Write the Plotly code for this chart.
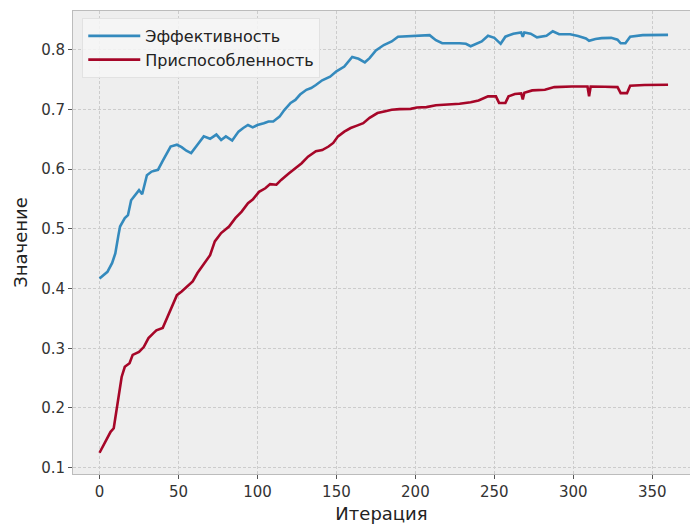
import plotly.graph_objects as go

# Data
eff_iter = [0, 2, 5, 8, 10, 12, 13, 16, 18, 20, 22, 25, 27, 30, 33, 37, 40, 43, 45, 49,
            52, 55, 58, 62, 66, 70, 74, 77, 80, 84, 88, 91, 94, 97, 100, 104, 107, 110,
            114, 117, 121, 124, 127, 131, 134, 137, 141, 146, 150, 155, 160, 164, 168,
            171, 175, 180, 185, 189, 197, 209, 213, 217, 228, 232, 235, 239, 242, 246,
            250, 254, 257, 262, 267, 268, 269, 273, 277, 283, 287, 291, 298, 303, 308,
            310, 314, 318, 324, 328, 330, 333, 336, 344, 352, 360]
efficiency = [0.417, 0.422, 0.428, 0.443, 0.459, 0.490, 0.504, 0.518, 0.523, 0.548, 0.555,
              0.565, 0.558, 0.590, 0.596, 0.599, 0.614, 0.630, 0.638, 0.641, 0.637, 0.631,
              0.627, 0.641, 0.655, 0.651, 0.658, 0.649, 0.655, 0.648, 0.663, 0.669, 0.674,
              0.670, 0.674, 0.677, 0.680, 0.680, 0.688, 0.699, 0.711, 0.716, 0.725, 0.733,
              0.736, 0.741, 0.749, 0.755, 0.764, 0.772, 0.788, 0.785, 0.779, 0.786, 0.799,
              0.808, 0.814, 0.822, 0.8235, 0.8246, 0.816, 0.811, 0.811, 0.810, 0.806, 0.810,
              0.814, 0.8235, 0.820, 0.810, 0.822, 0.827, 0.829, 0.822, 0.829, 0.827, 0.821,
              0.8235, 0.831, 0.826, 0.826, 0.823, 0.819, 0.815, 0.818, 0.8195, 0.820, 0.817,
              0.811, 0.811, 0.822, 0.8246, 0.825, 0.825]

fit_iter = [0, 4, 7, 9, 11, 14, 16, 19, 21, 25, 28, 31, 34, 36, 40, 43, 46, 49, 52, 55,
            59, 62, 66, 70, 73, 77, 82, 86, 90, 94, 97, 101, 105, 108, 112, 115, 120, 124,
            128, 132, 137, 141, 145, 148, 151, 155, 159, 163, 167, 171, 176, 181, 185, 190,
            197, 201, 207, 213, 220, 228, 235, 240, 246, 251, 253, 257, 259, 263, 267, 268,
            269, 274, 282, 288, 299, 309, 310, 311, 320, 328, 330, 334, 336, 345, 360]
fitness = [0.125, 0.144, 0.160, 0.166, 0.202, 0.252, 0.269, 0.275, 0.289, 0.294, 0.302,
           0.317, 0.325, 0.330, 0.334, 0.353, 0.373, 0.389, 0.395, 0.403, 0.412, 0.426,
           0.440, 0.456, 0.479, 0.493, 0.504, 0.518, 0.529, 0.543, 0.549, 0.562, 0.568,
           0.575, 0.574, 0.582, 0.593, 0.602, 0.610, 0.621, 0.630, 0.632, 0.638, 0.644,
           0.655, 0.663, 0.669, 0.673, 0.677, 0.686, 0.694, 0.697, 0.6995, 0.7006, 0.7011,
           0.7033, 0.704, 0.707, 0.708, 0.7095, 0.712, 0.715, 0.722, 0.722, 0.711, 0.711,
           0.722, 0.726, 0.727, 0.717, 0.728, 0.732, 0.733, 0.7375, 0.7386, 0.7386, 0.722,
           0.7386, 0.738, 0.7375, 0.7274, 0.7274, 0.7397, 0.741, 0.7414]

x_ticks = [0, 50, 100, 150, 200, 250, 300, 350]
y_ticks = [0.1, 0.2, 0.3, 0.4, 0.5, 0.6, 0.7, 0.8]

FONT = "DejaVu Sans"

fig = go.Figure()
fig.add_trace(go.Scatter(x=eff_iter, y=efficiency, mode="lines", name="Эффективность",
                         line=dict(color="#348ABD", width=2.6)))
fig.add_trace(go.Scatter(x=fit_iter, y=fitness, mode="lines", name="Приспособленность",
                         line=dict(color="#A60628", width=2.6)))

axis_common = dict(
    showgrid=True, gridcolor="#cccccc", gridwidth=0.8, griddash="3px,2px",
    showline=True, linecolor="#bcbcbc", linewidth=1, mirror=True,
    ticks="outside", ticklen=4, tickcolor="#555555", tickwidth=1,
    zeroline=False,
    tickfont=dict(family=FONT, size=15, color="#333333"),
)

fig.update_layout(
    width=690, height=526,
    margin=dict(l=73, r=0, t=11, b=52),
    paper_bgcolor="white", plot_bgcolor="#eeeeee",
    font=dict(family=FONT, color="#222222"),
    showlegend=True,
    legend=dict(x=0.015, y=0.985, xanchor="left", yanchor="top",
                bgcolor="rgba(246,246,246,0.85)", bordercolor="#e2e2e2", borderwidth=1,
                font=dict(family=FONT, size=16, color="#222222"),
                itemwidth=52, tracegroupgap=2),
    xaxis=dict(range=[-16.8, 373.9], tickvals=x_ticks,
               ticktext=[str(v) for v in x_ticks],
               title=dict(text="Итерация", font=dict(family=FONT, size=18, color="#222222"),
                          standoff=7),
               **axis_common),
    yaxis=dict(range=[0.0894, 0.865], tickvals=y_ticks,
               ticktext=[f"{v:.1f}" for v in y_ticks],
               title=dict(text="Значение", font=dict(family=FONT, size=18, color="#222222"),
                          standoff=8),
               **axis_common),
)

fig.write_html("out.html")
